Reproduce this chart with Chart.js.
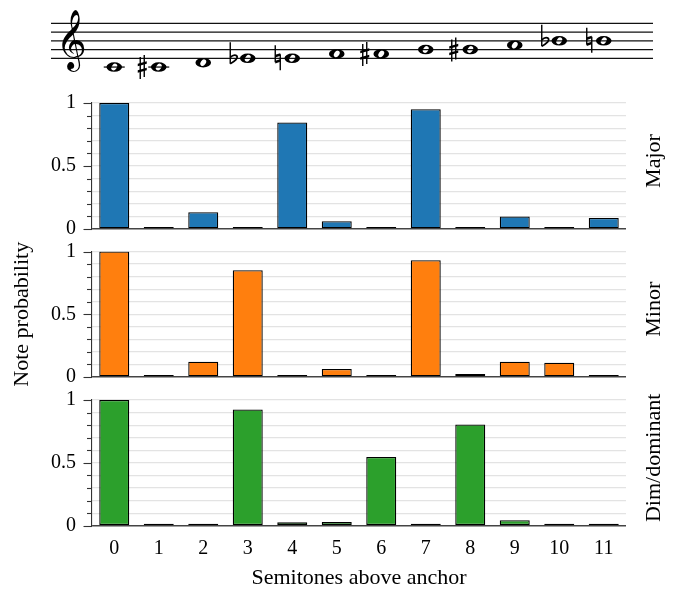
<!DOCTYPE html>
<html><head><meta charset="utf-8">
<script src="https://cdn.jsdelivr.net/npm/chart.js@4.4.1/dist/chart.umd.min.js"></script>
<style>
html,body{margin:0;padding:0;background:#fff;}
#wrap{position:relative;width:678px;height:593px;}
.c{position:absolute;left:0;top:0;width:678px;height:593px;}
</style></head><body>
<div id="wrap">
<div class="c"><canvas id="c1"></canvas></div>
<div class="c"><canvas id="c2"></canvas></div>
<div class="c"><canvas id="c3"></canvas></div>
</div>
<script>
// ---- data ----
const semitones = ['0','1','2','3','4','5','6','7','8','9','10','11'];
const major = [1.0, 0.003, 0.133, 0.003, 0.846, 0.061, 0.013, 0.95, 0.003, 0.099, 0.009, 0.088];
const minor = [1.0, 0.004, 0.122, 0.851, 0.002, 0.064, 0.005, 0.93, 0.024, 0.122, 0.114, 0.004];
const dimDominant = [1.0, 0.011, 0.003, 0.925, 0.027, 0.03, 0.547, 0.003, 0.806, 0.043, 0.005, 0.003];
const panelNames = ['Major', 'Minor', 'Dim/dominant'];
const yMajorTicks = [0, 0.5, 1];
const yMajorLabels = ['0', '0.5', '1'];
const xTitle = 'Semitones above anchor';
const yTitle = 'Note probability';
// staff: half-steps above the bottom staff line (E4), and accidentals
const noteSteps = [-2, -2, -1, 0, 0, 1, 1, 2, 2, 3, 4, 4];
const accidentals = ['', 'sharp', '', 'flat', 'natural', '', 'sharp', '', 'sharp', '', 'flat', 'natural'];

// ---- styling / layout ----
const SERIF = '"Liberation Serif", "Times New Roman", serif';
Chart.defaults.font.family = SERIF;
Chart.defaults.font.size = 20;
Chart.defaults.color = '#000';
const W = 678, H = 593;
const panelTop = [103, 251.5, 400];
const panelBottom = [229, 377, 525.7];
const plotLeft = 92, plotRight = 626;
const colors = ['#1f77b4', '#ff7f0e', '#2ca02c'];
const seriesList = [major, minor, dimDominant];

const panelDecor = {
  id: 'panelDecor',
  afterDraw(chart, args, opts) {
    const ctx = chart.ctx, y = chart.scales.y, area = chart.chartArea;
    ctx.save();
    ctx.strokeStyle = '#333';
    ctx.lineWidth = 1.1;
    y.ticks.forEach(t => {
      const py = Math.round(y.getPixelForValue(t.value)) + 0.5;
      const isMajor = yMajorTicks.some(v => Math.abs(v - t.value) < 1e-9);
      ctx.beginPath();
      ctx.moveTo(area.left - (isMajor ? 8.5 : 5), py);
      ctx.lineTo(area.left, py);
      ctx.stroke();
    });
    ctx.translate(660, (area.top + area.bottom) / 2 - 5);
    ctx.rotate(-Math.PI / 2);
    ctx.font = '22px ' + SERIF;
    ctx.fillStyle = '#000';
    ctx.textAlign = 'center';
    ctx.textBaseline = 'alphabetic';
    ctx.fillText(opts.label, 0, 0);
    ctx.restore();
  }
};

function bar(ctx, x1, y1, x2, y2, th) {
  ctx.beginPath();
  ctx.moveTo(x1, y1 - th / 2); ctx.lineTo(x2, y2 - th / 2);
  ctx.lineTo(x2, y2 + th / 2); ctx.lineTo(x1, y1 + th / 2);
  ctx.closePath(); ctx.fill();
}
function vline(ctx, x, y1, y2, w) {
  ctx.lineWidth = w;
  ctx.beginPath(); ctx.moveTo(x, y1); ctx.lineTo(x, y2); ctx.stroke();
}
function drawAccidental(ctx, kind, cx, cy) {
  if (kind === 'sharp') {
    const ax = cx - 16.5;
    vline(ctx, ax - 2, cy - 10, cy + 12, 1.4);
    vline(ctx, ax + 2, cy - 12, cy + 10, 1.4);
    bar(ctx, ax - 4.5, cy - 2, ax + 4.5, cy - 4.5, 2.6);
    bar(ctx, ax - 4.5, cy + 4.5, ax + 4.5, cy + 2, 2.6);
  } else if (kind === 'flat') {
    const sx = cx - 17.5;
    vline(ctx, sx, cy - 16, cy + 5.5, 1.4);
    ctx.lineWidth = 1.8;
    ctx.beginPath();
    ctx.moveTo(sx, cy - 1);
    ctx.bezierCurveTo(sx + 4, cy - 5, sx + 9, cy - 3, sx + 6, cy + 1);
    ctx.quadraticCurveTo(sx + 3.5, cy + 3.5, sx, cy + 5.5);
    ctx.stroke();
  } else if (kind === 'natural') {
    const ax = cx - 14.5;
    vline(ctx, ax - 2.5, cy - 13, cy + 4, 1.4);
    vline(ctx, ax + 2.5, cy - 4, cy + 12, 1.4);
    bar(ctx, ax - 2.5, cy - 2.2, ax + 2.5, cy - 3.8, 2.6);
    bar(ctx, ax - 2.5, cy + 3.8, ax + 2.5, cy + 2.2, 2.6);
  }
}

const staffPlugin = {
  id: 'staff',
  afterDraw(chart, args, opts) {
    if (!opts.show) return;
    const ctx = chart.ctx, x = chart.scales.x;
    const top = 23.3, gap = 8.75, bottomLine = top + 4 * gap;
    ctx.save();
    ctx.strokeStyle = '#111';
    ctx.lineWidth = 1.2;
    for (let i = 0; i < 5; i++) {
      const yy = top + i * gap;
      ctx.beginPath(); ctx.moveTo(51, yy); ctx.lineTo(653, yy); ctx.stroke();
    }
    // clef
    ctx.fillStyle = '#000';
    ctx.font = '52px "DejaVu Sans", "Noto Sans", serif';
    ctx.textAlign = 'center';
    ctx.textBaseline = 'alphabetic';
    ctx.fillText('\uD834\uDD1E', 71, bottomLine - 1);
    ctx.strokeStyle = '#000';
    semitones.forEach((lab, i) => {
      const cx = x.getPixelForValue(i);
      const cy = bottomLine - noteSteps[i] * gap / 2;
      if (noteSteps[i] <= -2) {
        ctx.lineWidth = 1.2;
        ctx.beginPath(); ctx.moveTo(cx - 10.5, bottomLine + gap); ctx.lineTo(cx + 10.5, bottomLine + gap); ctx.stroke();
      }
      ctx.beginPath();
      ctx.ellipse(cx, cy, 7.8, 4.8, 0, 0, Math.PI * 2);
      ctx.ellipse(cx, cy, 2.5, 3.6, 0.6, 0, Math.PI * 2);
      ctx.fill('evenodd');
      if (accidentals[i]) drawAccidental(ctx, accidentals[i], cx, cy);
    });
    ctx.restore();
  }
};

seriesList.forEach((vals, p) => {
  const isLast = p === 2;
  const xHeight = isLast ? H - panelBottom[p] : 0;
  new Chart(document.getElementById('c' + (p + 1)), {
    type: 'bar',
    data: {
      labels: semitones,
      datasets: [{
        data: vals,
        backgroundColor: colors[p],
        borderColor: '#000',
        borderWidth: 1.3,
        borderSkipped: false,
        minBarLength: 2,
        barPercentage: 0.674,
        categoryPercentage: 1.0
      }]
    },
    options: {
      responsive: true,
      maintainAspectRatio: false,
      animation: false,
      events: [],
      layout: { padding: { top: panelTop[p], bottom: isLast ? 0 : H - panelBottom[p], left: 0, right: W - plotRight } },
      plugins: {
        legend: { display: false },
        tooltip: { enabled: false },
        panelDecor: { label: panelNames[p] },
        staff: { show: p === 0 }
      },
      scales: {
        x: {
          display: isLast,
          offset: true,
          grid: { display: false, drawTicks: false },
          border: { display: false },
          ticks: { padding: 11, font: { size: 20 } },
          title: { display: isLast, text: xTitle, font: { size: 22 }, padding: { top: 0, bottom: 2 } },
          afterFit: s => { s.height = xHeight; }
        },
        y: {
          min: 0, max: 1,
          afterFit: s => { s.width = plotLeft; },
          ticks: {
            stepSize: 0.1, autoSkip: false, padding: 16, font: { size: 20 },
            callback: v => { const k = yMajorTicks.findIndex(m => Math.abs(m - v) < 1e-9); return k >= 0 ? yMajorLabels[k] : ''; }
          },
          grid: {
            drawTicks: false,
            color: c => (c.tick && Math.abs(c.tick.value) < 1e-9) ? '#444' : '#e3e3e3',
            lineWidth: c => (c.tick && Math.abs(c.tick.value) < 1e-9) ? 1.4 : 1.2
          },
          border: { display: true, color: '#333', width: 1.1 },
          title: { display: p === 1, text: yTitle, font: { size: 22 }, padding: { top: 9, bottom: 0 } }
        }
      }
    },
    plugins: [panelDecor, staffPlugin]
  });
});
</script>
</body></html>
